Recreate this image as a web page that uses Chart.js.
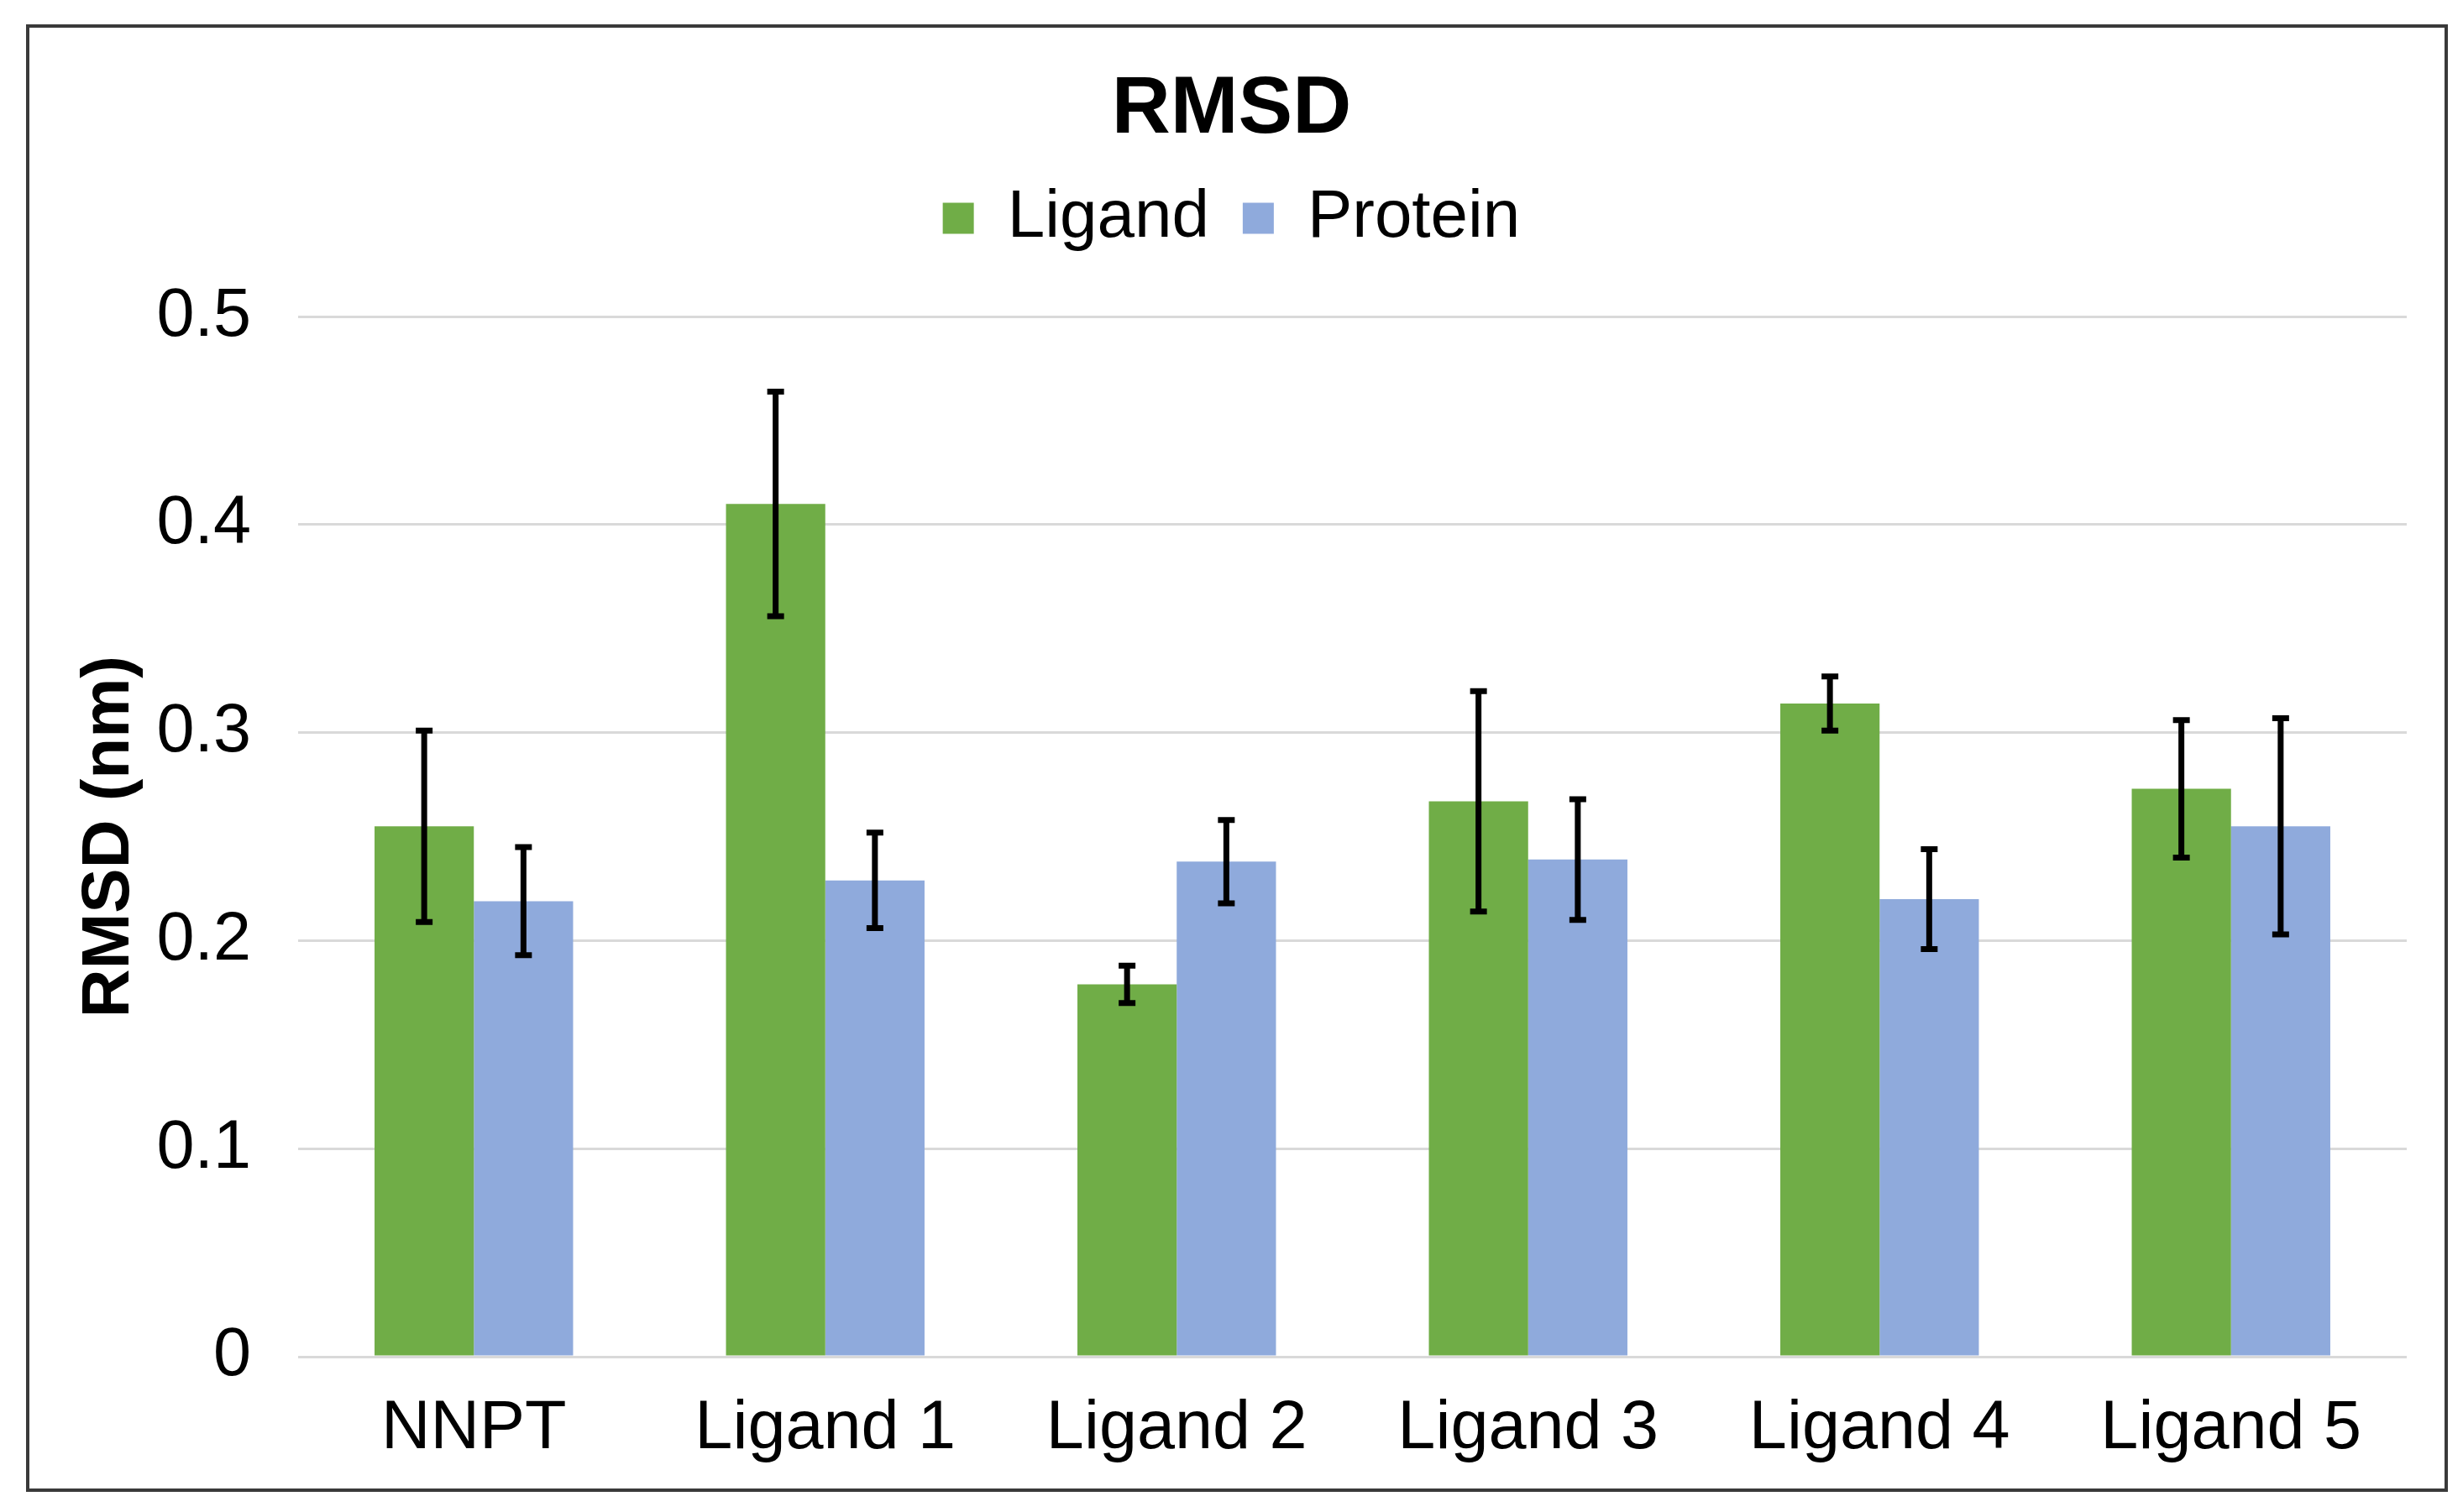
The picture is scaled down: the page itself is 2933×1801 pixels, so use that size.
<!DOCTYPE html>
<html>
<head>
<meta charset="utf-8">
<script src="https://cdn.jsdelivr.net/npm/chart.js@4"></script>
<style>
  html, body { margin: 0; padding: 0; background: #ffffff; }
  #wrap { position: relative; width: 2933px; height: 1801px; }
  #frame { position: absolute; left: 31px; top: 29px; width: 2876px; height: 1740px;
           border: 4px solid #3a3a3a; pointer-events: none; }
</style>
</head>
<body>
<div id="wrap">
  <canvas id="graficaRmsd"></canvas>
  <div id="frame"></div>
</div>
<script>
const categories = ['NNPT', 'Ligand 1', 'Ligand 2', 'Ligand 3', 'Ligand 4', 'Ligand 5'];
const ligandValues = [0.255, 0.410, 0.179, 0.267, 0.314, 0.273];
const ligandErrors = [0.046, 0.054, 0.009, 0.053, 0.013, 0.033];
const proteinValues = [0.219, 0.229, 0.238, 0.239, 0.220, 0.255];
const proteinErrors = [0.026, 0.023, 0.020, 0.029, 0.024, 0.052];
const yTicks = [0, 0.1, 0.2, 0.3, 0.4, 0.5];

const errorBars = {
    id: 'errorBars',
    afterDatasetsDraw(chart) {
        const ctx = chart.ctx;
        const yScale = chart.scales.y;
        ctx.save();
        ctx.strokeStyle = '#000000';
        ctx.lineWidth = 7;
        chart.data.datasets.forEach(function(ds, i) {
            const meta = chart.getDatasetMeta(i);
            meta.data.forEach(function(bar, j) {
                const v = ds.data[j];
                const e = ds.errors[j];
                const top = yScale.getPixelForValue(v + e);
                const bottom = yScale.getPixelForValue(v - e);
                ctx.beginPath();
                ctx.moveTo(bar.x, top);
                ctx.lineTo(bar.x, bottom);
                ctx.moveTo(bar.x - 10, top);
                ctx.lineTo(bar.x + 10, top);
                ctx.moveTo(bar.x - 10, bottom);
                ctx.lineTo(bar.x + 10, bottom);
                ctx.stroke();
            });
        });
        ctx.restore();
    }
};

document.addEventListener('DOMContentLoaded', function() {
    const ctx = document.getElementById('graficaRmsd');
    new Chart(ctx, {
        type: 'bar',
        data: {
            labels: categories,
            datasets: [{
                label: 'Ligand',
                data: ligandValues,
                errors: ligandErrors,
                backgroundColor: '#70AD47'
            }, {
                label: 'Protein',
                data: proteinValues,
                errors: proteinErrors,
                backgroundColor: '#8FAADC'
            }]
        },
        options: {
            responsive: true,
            maintainAspectRatio: false,
            devicePixelRatio: 1,
            animation: false,
            layout: {
                padding: { left: 67, right: 67, top: 0, bottom: 0 }
            },
            datasets: {
                bar: { categoryPercentage: 0.565, barPercentage: 1.0 }
            },
            scales: {
                x: {
                    grid: { display: false, drawTicks: false },
                    border: { display: false },
                    ticks: {
                        color: '#000000',
                        padding: 38,
                        font: { family: 'Liberation Sans', size: 81 }
                    },
                    afterFit: function(scale) { scale.height = 185; }
                },
                y: {
                    min: 0,
                    max: 0.5,
                    afterBuildTicks: function(scale) {
                        scale.ticks = yTicks.map(function(v) { return { value: v }; });
                    },
                    grid: { color: '#d9d9d9', lineWidth: 3, drawTicks: false },
                    border: { display: false },
                    ticks: {
                        color: '#000000',
                        padding: 56,
                        font: { family: 'Liberation Sans', size: 81 }
                    },
                    title: {
                        display: true,
                        text: 'RMSD (nm)',
                        color: '#000000',
                        padding: { top: 16, bottom: 0 },
                        font: { family: 'Liberation Sans', size: 80, weight: 'bold' }
                    },
                    afterFit: function(scale) { scale.width = 288; }
                }
            },
            plugins: {
                title: {
                    display: true,
                    text: 'RMSD',
                    color: '#000000',
                    padding: { top: 83, bottom: 0 },
                    font: { family: 'Liberation Sans', size: 97, weight: 'bold', lineHeight: 1.0 }
                },
                subtitle: {
                    // empty spacer between legend and plot
                    display: true,
                    text: ' ',
                    weight: 500,
                    padding: { top: 0, bottom: 66 },
                    font: { size: 1 }
                },
                legend: {
                    position: 'top',
                    labels: {
                        color: '#000000',
                        boxWidth: 37,
                        boxHeight: 37,
                        padding: 40,
                        font: { family: 'Liberation Sans', size: 80 }
                    }
                },
                tooltip: { enabled: false }
            }
        },
        plugins: [errorBars]
    });
});
</script>
</body>
</html>
